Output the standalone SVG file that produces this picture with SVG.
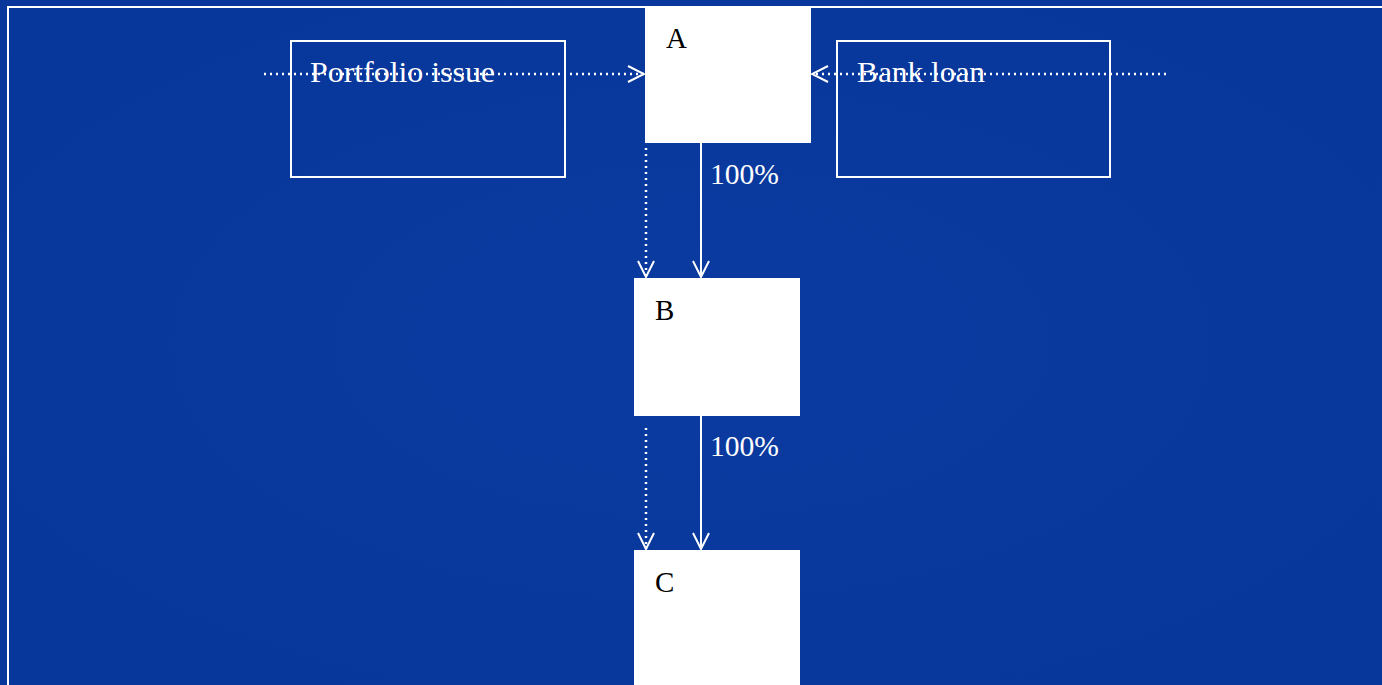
<svg xmlns="http://www.w3.org/2000/svg" width="1382" height="685" viewBox="0 0 1382 685">
<defs>
<style>
.node{fill:#ffffff}
.frame{fill:none;stroke:#ffffff;stroke-width:2}
.lbl{font-family:"Liberation Serif",serif;font-size:29px;fill:#000000}
.wt{font-family:"Liberation Serif",serif;font-size:30px;fill:#ffffff}
.solid{stroke:#ffffff;stroke-width:2;fill:none}
.dot{stroke:#ffffff;stroke-width:2.5;fill:none;stroke-dasharray:2 4}
</style>
<marker id="chev" viewBox="0 0 20 20" refX="18" refY="10" markerWidth="20" markerHeight="20" markerUnits="userSpaceOnUse" orient="auto">
<path d="M2 2 L18 10 L2 18" fill="none" stroke="#ffffff" stroke-width="2"/>
</marker>
<radialGradient id="bg" cx="0.5" cy="0.5" r="0.8">
<stop offset="0" stop-color="#0b3aa0"/>
<stop offset="1" stop-color="#07369a"/>
</radialGradient>
</defs>
<rect x="0" y="0" width="1382" height="685" fill="url(#bg)"/>
<rect x="8" y="7" width="1380" height="690" class="frame"/>
<g id="portfolio">
<rect x="291" y="41" width="274" height="136" class="frame"/>
<text x="310" y="82" class="wt" textLength="185" lengthAdjust="spacingAndGlyphs">Portfolio issue</text>
</g>
<g id="bankloan">
<rect x="837" y="41" width="273" height="136" class="frame"/>
<text x="857" y="82" class="wt" textLength="128" lengthAdjust="spacingAndGlyphs">Bank loan</text>
</g>
<g id="A">
<rect x="645" y="6" width="166" height="137" class="node"/>
<text x="666" y="48" class="lbl">A</text>
</g>
<g id="B">
<rect x="634" y="278" width="166" height="138" class="node"/>
<text x="655" y="320" class="lbl">B</text>
</g>
<g id="C">
<rect x="634" y="550" width="166" height="140" class="node"/>
<text x="655" y="592" class="lbl">C</text>
</g>
<g id="connectors">
<line x1="264" y1="74" x2="644" y2="74" class="dot" marker-end="url(#chev)"/>
<line x1="1166" y1="74" x2="812" y2="74" class="dot" marker-end="url(#chev)"/>
<line x1="701" y1="143" x2="701" y2="277" class="solid" marker-end="url(#chev)"/>
<line x1="646" y1="148" x2="646" y2="277" class="dot" marker-end="url(#chev)"/>
<line x1="701" y1="416" x2="701" y2="549" class="solid" marker-end="url(#chev)"/>
<line x1="646" y1="428" x2="646" y2="549" class="dot" marker-end="url(#chev)"/>
<text x="710" y="184" class="wt" textLength="69" lengthAdjust="spacingAndGlyphs">100%</text>
<text x="710" y="456" class="wt" textLength="69" lengthAdjust="spacingAndGlyphs">100%</text>
</g>
</svg>
